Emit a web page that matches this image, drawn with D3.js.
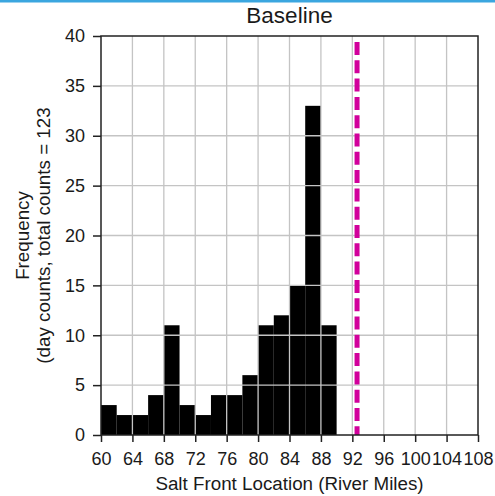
<!DOCTYPE html>
<html>
<head>
<meta charset="utf-8">
<script src="https://cdn.jsdelivr.net/npm/d3@7"></script>
<style>
  html, body { margin: 0; padding: 0; background: #fff; }
  svg { display: block; font-family: "Liberation Sans", Arial, Helvetica, sans-serif; }
</style>
</head>
<body>
<svg id="chart" width="495" height="496"></svg>
<script>
// Histogram of daily salt front location, baseline scenario (2-mile bins)
const binStarts = [60, 62, 64, 66, 68, 70, 72, 74, 76, 78, 80, 82, 84, 86, 88, 90];
const binWidth = 2;
const dayCounts = [3, 2, 2, 4, 11, 3, 2, 4, 4, 6, 11, 12, 15, 33, 11, 0];
const xTicks = [60, 64, 68, 72, 76, 80, 84, 88, 92, 96, 100, 104, 108];
const yTicks = [0, 5, 10, 15, 20, 25, 30, 35, 40];
const referenceMile = 92.6;   // dashed marker location
const totalCounts = 123;

const svg = d3.select("#chart");
const W = 495, H = 496;
const m = { left: 101, right: 17, top: 36, bottom: 61 };

const x = d3.scaleLinear().domain([60, 108]).range([m.left, W - m.right]);
const y = d3.scaleLinear().domain([0, 40]).range([H - m.bottom, m.top]);

// thin blue band along the top edge
svg.append("rect").attr("x", 0).attr("y", 0).attr("width", W).attr("height", 2.5)
  .attr("fill", "#3ba6df");

// bars
svg.append("g").selectAll("rect")
  .data(binStarts.map((s, i) => ({ s, c: dayCounts[i] })).filter(d => d.c > 0))
  .join("rect")
  .attr("x", d => x(d.s))
  .attr("y", d => y(d.c))
  .attr("width", d => x(d.s + binWidth) - x(d.s))
  .attr("height", d => y(0) - y(d.c))
  .attr("fill", "#000");

// grid drawn over the bars
const grid = svg.append("g").attr("stroke", "#c4c4c4").attr("stroke-width", 1.3);
grid.selectAll("line.v").data(xTicks.slice(1, -1)).join("line")
  .attr("x1", d => x(d)).attr("x2", d => x(d))
  .attr("y1", y(40)).attr("y2", y(0));
grid.selectAll("line.h").data(yTicks.slice(1, -1)).join("line")
  .attr("x1", x(60)).attr("x2", x(108))
  .attr("y1", d => y(d)).attr("y2", d => y(d));

// dashed reference line
svg.append("line")
  .attr("x1", x(referenceMile)).attr("x2", x(referenceMile))
  .attr("y1", y(39.4)).attr("y2", y(0))
  .attr("stroke", "#d1009b").attr("stroke-width", 5)
  .attr("stroke-dasharray", "13,5.3");

// frame
svg.append("rect")
  .attr("x", x(60)).attr("y", y(40))
  .attr("width", x(108) - x(60)).attr("height", y(0) - y(40))
  .attr("fill", "none").attr("stroke", "#222").attr("stroke-width", 1.5);

// axes
const xAxis = svg.append("g").attr("transform", `translate(0,${y(0)})`)
  .call(d3.axisBottom(x).tickValues(xTicks).tickFormat(d3.format("d"))
    .tickSize(7).tickPadding(10).tickSizeOuter(0));
const yAxis = svg.append("g").attr("transform", `translate(${x(60)},0)`)
  .call(d3.axisLeft(y).tickValues(yTicks).tickFormat(d3.format("d"))
    .tickSize(8).tickPadding(8).tickSizeOuter(0));
[xAxis, yAxis].forEach(a => {
  a.select(".domain").remove();
  a.selectAll(".tick line").attr("stroke", "#222").attr("stroke-width", 1.5);
  a.selectAll(".tick text").attr("fill", "#1a1a1a").style("font-size", "18px")
    .style("font-family", "\"Liberation Sans\", Arial, sans-serif");
});

// titles
svg.append("text").attr("x", (x(60) + x(108)) / 2).attr("y", 23)
  .attr("text-anchor", "middle").attr("fill", "#1a1a1a").style("font-size", "22.5px")
  .text("Baseline");

svg.append("text").attr("x", (x(60) + x(108)) / 2).attr("y", 490)
  .attr("text-anchor", "middle").attr("fill", "#1a1a1a").style("font-size", "18.8px")
  .text("Salt Front Location (River Miles)");

const yMid = (y(0) + y(40)) / 2;
const yTitle = svg.append("text")
  .attr("transform", `translate(29,${yMid}) rotate(-90)`)
  .attr("text-anchor", "middle").attr("fill", "#1a1a1a").style("font-size", "18.8px");
yTitle.append("tspan").attr("x", 0).attr("y", 0).text("Frequency");
yTitle.append("tspan").attr("x", 0).attr("y", 21)
  .text(`(day counts, total counts = ${totalCounts}`);
</script>
</body>
</html>
